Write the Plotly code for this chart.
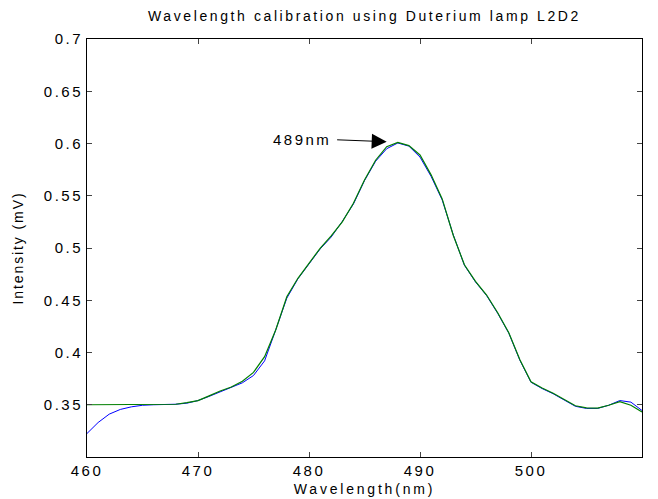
import plotly.graph_objects as go

wavelength = list(range(460, 511))

fit_intensity = [0.350, 0.350, 0.350, 0.350, 0.350, 0.350, 0.350, 0.350, 0.3505, 0.352,
                 0.354, 0.3585, 0.3632, 0.367, 0.3725, 0.381, 0.396, 0.4215, 0.4534, 0.471,
                 0.485, 0.4997, 0.5115, 0.525, 0.5428, 0.565, 0.584, 0.597, 0.601, 0.598,
                 0.589, 0.570, 0.547, 0.512, 0.484, 0.468, 0.455, 0.438, 0.419, 0.393,
                 0.372, 0.366, 0.361, 0.355, 0.349, 0.347, 0.3468, 0.3495, 0.353, 0.3495,
                 0.343]

raw_intensity = [0.3225, 0.333, 0.341, 0.3455, 0.348, 0.3495, 0.350, 0.350, 0.3505, 0.3515,
                 0.354, 0.358, 0.3625, 0.3665, 0.371, 0.378, 0.392, 0.4215, 0.452, 0.4705,
                 0.4845, 0.499, 0.5105, 0.5255, 0.542, 0.5645, 0.583, 0.595, 0.6005, 0.5975,
                 0.587, 0.5685, 0.546, 0.5125, 0.4835, 0.4675, 0.4545, 0.4375, 0.4185, 0.3925,
                 0.3715, 0.3655, 0.3605, 0.3545, 0.3485, 0.3465, 0.3465, 0.3495, 0.354, 0.3525,
                 0.3445]

x_ticks = [460, 470, 480, 490, 500, 510]
x_tick_labels = ["460", "470", "480", "490", "500", "510"]
y_ticks = [0.35, 0.4, 0.45, 0.5, 0.55, 0.6, 0.65, 0.7]
y_tick_labels = ["0.35", "0.4", "0.45", "0.5", "0.55", "0.6", "0.65", "0.7"]

peak_label = "489nm"
peak_x, peak_y = 487.0, 0.6017
label_tail_x, label_tail_y = 482.4, 0.6036

FONT = "Liberation Sans, Arial, Helvetica, sans-serif"

# the page body adds an 8px margin, so the figure is drawn 8px smaller
W, H = 650, 491


def spaced(text, px):
    return "<span style='letter-spacing:%.1fpx'>%s</span>" % (px, text)


fig = go.Figure()
fig.add_trace(go.Scatter(x=wavelength, y=raw_intensity, mode="lines",
                         line=dict(color="#0000ff", width=1), showlegend=False))
fig.add_trace(go.Scatter(x=wavelength, y=fit_intensity, mode="lines",
                         line=dict(color="#007f00", width=1.2), showlegend=False))

fig.add_annotation(x=peak_x, y=peak_y, ax=label_tail_x, ay=label_tail_y,
                   axref="x", ayref="y", xref="x", yref="y", text="",
                   showarrow=True, arrowhead=2, arrowsize=3, arrowwidth=1,
                   arrowcolor="black")
fig.add_annotation(x=label_tail_x, y=label_tail_y, xref="x", yref="y",
                   text=spaced(peak_label, 2.5), showarrow=False, xanchor="right", xshift=-3,
                   font=dict(family=FONT, size=15, color="black"))

fig.update_layout(
    width=W, height=H,
    margin=dict(l=79, r=16, t=31, b=42),
    paper_bgcolor="white", plot_bgcolor="white",
    font=dict(family=FONT, size=15, color="black"),
    title=dict(text=spaced("Wavelength calibration using Duterium lamp L2D2", 2.6),
               x=(79 + 634) / 2 / W, xanchor="center", y=1 - 8 / H, yanchor="middle",
               font=dict(family=FONT, size=14, color="black")),
)
fig.update_xaxes(range=[460, 510], tickvals=x_ticks,
                 ticktext=[spaced(t, 2.5) for t in x_tick_labels],
                 ticks="inside", ticklen=5, automargin=False,
                 showline=True, linecolor="black", linewidth=1, mirror="ticks",
                 showgrid=False, zeroline=False,
                 title=dict(text=spaced("Wavelength(nm)", 2.8), standoff=6,
                            font=dict(family=FONT, size=14)),
                 tickfont=dict(family=FONT, size=15))
fig.update_yaxes(range=[0.3, 0.7], tickvals=y_ticks,
                 ticktext=[spaced(t, 2.5) for t in y_tick_labels],
                 ticks="inside", ticklen=5, automargin=False,
                 showline=True, linecolor="black", linewidth=1, mirror="ticks",
                 showgrid=False, zeroline=False,
                 title=dict(text=spaced("Intensity (mV)", 1.9), standoff=16,
                            font=dict(family=FONT, size=14)),
                 tickfont=dict(family=FONT, size=15))

fig.write_html("out.html")
